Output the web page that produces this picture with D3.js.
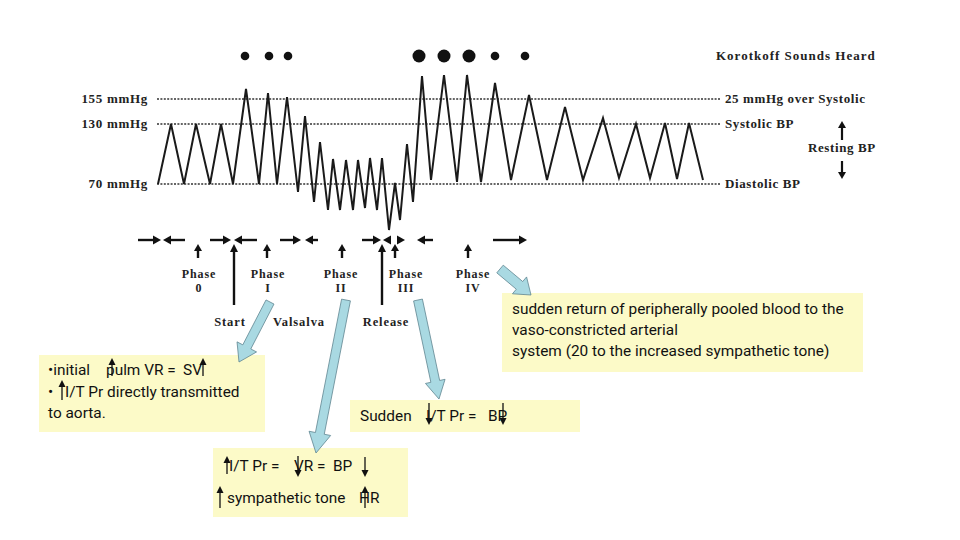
<!DOCTYPE html>
<html>
<head>
<meta charset="utf-8">
<script src="https://cdn.jsdelivr.net/npm/d3@7/dist/d3.min.js"></script>
<style>
  body { margin: 0; background: #fff; }
  svg { display: block; }
  .lbl { font-family: "Liberation Serif", "DejaVu Serif", serif; font-weight: bold; fill: #222; }
  .note { font-family: Roboto, "Noto Sans", sans-serif; font-size: 15.4px; fill: #111; }
</style>
</head>
<body>
<div id="chart"></div>
<script>
// waveform: time (arbitrary units) and pressure (mmHg)
const waveT = [1, 14, 27, 39, 53, 64, 76, 89, 102, 111, 120, 130, 141, 148, 157, 163, 171, 176, 183, 189, 196, 201, 208, 213, 220, 225, 232, 238, 243, 250, 256, 265, 274, 287, 300, 310, 324, 338, 354, 372, 390, 408, 426, 446, 462, 479, 493, 508, 520, 532, 546];
const waveP = [70, 130, 70, 130, 70, 130, 70, 165, 70, 161, 70, 157, 62, 138, 52, 112, 44, 95, 44, 94, 44, 94, 46, 96, 44, 96, 24, 71, 34, 110, 52, 178, 74, 179, 72, 179, 72, 171, 74, 159, 74, 147, 74, 136, 76, 130, 76, 131, 75, 131, 74];

// Korotkoff sounds: time and loudness (1 faint, 2 loud)
const soundT = [88, 112, 131, 262, 287, 312, 338, 368];
const soundLoud = [1, 1, 1, 2, 2, 2, 1, 1];

// reference levels
const refLevels = [155, 130, 70];
const refLeft = ["155 mmHg", "130 mmHg", "70 mmHg"];
const refRight = ["25 mmHg over Systolic", "Systolic BP", "Diastolic  BP"];

// phases of the manoeuvre
const phaseNames = ["0", "I", "II", "III", "IV"];
const phaseArrowT = [41, 110, 185, 238, 311];
const phaseLabelT = [42, 111, 184, 249, 316];
const eventNames = ["Start", "Valsalva", "Release"];
const eventLabelT = [73, 142, 229];
const eventArrowT = [77, null, 225];

// horizontal arrows along the phase row [from, to]
const rowArrows = [[-19, 4], [28, 6], [53, 74], [100, 77], [123, 144], [161, 148], [205, 224], [233, 226], [241, 248], [276, 260], [336, 370]];

const W = 960, H = 540;
const svg = d3.select('#chart').append('svg')
  .attr('width', W).attr('height', H)
  .attr('viewBox', `0 0 ${W} ${H}`);

const x = d3.scaleLinear().domain([0, 563]).range([157, 720]);
const y = d3.scaleLinear().domain([0, 155]).range([254, 99]);

// dotted reference lines
svg.selectAll('line.ref')
  .data(refLevels)
  .enter().append('line')
  .attr('class', 'ref')
  .attr('x1', x(0)).attr('x2', x(563))
  .attr('y1', d => y(d)).attr('y2', d => y(d))
  .attr('stroke', '#333')
  .attr('stroke-width', 1.4)
  .attr('stroke-dasharray', '2,1.4');

svg.selectAll('text.refL')
  .data(refLevels)
  .enter().append('text')
  .attr('class', 'lbl refL')
  .attr('x', 148).attr('y', d => y(d) + 4)
  .attr('text-anchor', 'end')
  .attr('font-size', 13)
  .attr('letter-spacing', 0.7)
  .text((d, i) => refLeft[i]);

svg.selectAll('text.refR')
  .data(refLevels)
  .enter().append('text')
  .attr('class', 'lbl refR')
  .attr('x', 725).attr('y', d => y(d) + 4)
  .attr('font-size', 13)
  .attr('letter-spacing', 0.6)
  .text((d, i) => refRight[i]);

// waveform
const line = d3.line().x(d => x(d[0])).y(d => y(d[1]));
svg.append('path')
  .datum(waveT.map((t, i) => [t, waveP[i]]))
  .attr('d', line)
  .attr('fill', 'none')
  .attr('stroke', '#1a1a1a')
  .attr('stroke-width', 2)
  .attr('stroke-linejoin', 'miter');

// Korotkoff dots
const rScale = d3.scaleOrdinal().domain([1, 2]).range([4.3, 6.5]);
svg.selectAll('circle.snd')
  .data(soundT)
  .enter().append('circle')
  .attr('class', 'snd')
  .attr('cx', d => x(d))
  .attr('cy', 56)
  .attr('r', (d, i) => rScale(soundLoud[i]))
  .attr('fill', '#111');

svg.append('text').attr('class', 'lbl')
  .attr('x', 716).attr('y', 60)
  .attr('font-size', 13).attr('letter-spacing', 1)
  .text('Korotkoff Sounds Heard');

// black arrow helper
function blackArrow(x1, y1, x2, y2, hl = 8, hw = 4.5, sw = 2.4) {
  const len = Math.hypot(x2 - x1, y2 - y1);
  const dx = (x2 - x1) / len, dy = (y2 - y1) / len;
  const bx = x2 - dx * hl, by = y2 - dy * hl;
  svg.append('line')
    .attr('x1', x1).attr('y1', y1).attr('x2', bx).attr('y2', by)
    .attr('stroke', '#111').attr('stroke-width', sw);
  svg.append('path')
    .attr('d', `M${x2},${y2}L${bx - dy * hw},${by + dx * hw}L${bx + dy * hw},${by - dx * hw}Z`)
    .attr('fill', '#111');
}

// resting BP arrows
svg.append('text').attr('class', 'lbl')
  .attr('x', 808).attr('y', 152)
  .attr('font-size', 13).attr('letter-spacing', 0.6)
  .text('Resting BP');
blackArrow(842, 140, 842, 121, 7, 4, 2.2);
blackArrow(842, 161, 842, 179, 7, 4, 2.2);

// phase row arrows
rowArrows.forEach(a => blackArrow(x(a[0]), 240, x(a[1]), 240));

phaseArrowT.forEach(t => blackArrow(x(t), 258, x(t), 244, 7, 4, 2.4));

eventArrowT.forEach(t => {
  if (t !== null) blackArrow(x(t), 305, x(t), 244, 8, 4, 2.4);
});

svg.selectAll('text.phase')
  .data(phaseNames)
  .enter().append('text')
  .attr('class', 'lbl phase')
  .attr('x', (d, i) => x(phaseLabelT[i]))
  .attr('y', 278)
  .attr('text-anchor', 'middle')
  .attr('font-size', 12).attr('letter-spacing', 0.9)
  .text('Phase');

svg.selectAll('text.phaseN')
  .data(phaseNames)
  .enter().append('text')
  .attr('class', 'lbl phaseN')
  .attr('x', (d, i) => x(phaseLabelT[i]))
  .attr('y', 292)
  .attr('text-anchor', 'middle')
  .attr('font-size', 12).attr('letter-spacing', 0.9)
  .text(d => d);

svg.selectAll('text.event')
  .data(eventNames)
  .enter().append('text')
  .attr('class', 'lbl event')
  .attr('x', (d, i) => x(eventLabelT[i]))
  .attr('y', 326)
  .attr('text-anchor', 'middle')
  .attr('font-size', 12.5).attr('letter-spacing', 0.9)
  .text(d => d);

// yellow note boxes
function box(x0, y0, w, h) {
  svg.append('rect')
    .attr('x', x0).attr('y', y0).attr('width', w).attr('height', h)
    .attr('fill', '#fcfac8');
}
box(39, 355, 226, 77);
box(350, 400, 230, 32);
box(213, 448, 195, 69);
box(502, 293, 361, 79);

// fat callout arrows
function fatArrow(x1, y1, x2, y2, sw = 5, hw = 12, hl = 18) {
  const len = Math.hypot(x2 - x1, y2 - y1);
  const dx = (x2 - x1) / len, dy = (y2 - y1) / len;
  const nx = -dy, ny = dx;
  const bx = x2 - dx * hl, by = y2 - dy * hl;
  const pts = [
    [x1 + nx * sw, y1 + ny * sw],
    [bx + nx * sw, by + ny * sw],
    [bx + nx * hw, by + ny * hw],
    [x2, y2],
    [bx - nx * hw, by - ny * hw],
    [bx - nx * sw, by - ny * sw],
    [x1 - nx * sw, y1 - ny * sw]
  ];
  svg.append('path')
    .attr('d', 'M' + pts.map(p => p.join(',')).join('L') + 'Z')
    .attr('fill', '#a9d9e2')
    .attr('stroke', '#5f8590')
    .attr('stroke-width', 0.8);
}
fatArrow(270, 302, 239, 362, 4.5, 11, 17);
fatArrow(346, 300, 316, 453, 4.5, 11, 20);
fatArrow(418, 300, 439, 399, 4.5, 10, 18);
fatArrow(500, 269, 531, 295, 5, 11, 15);

// thin arrows inside the notes
function thinArrow(xa, y1, y2) {
  const dir = y2 > y1 ? 1 : -1;
  svg.append('line')
    .attr('x1', xa).attr('x2', xa).attr('y1', y1).attr('y2', y2 - dir * 5)
    .attr('stroke', '#111').attr('stroke-width', 1.3);
  svg.append('path')
    .attr('d', `M${xa},${y2}L${xa - 3.5},${y2 - dir * 7}L${xa + 3.5},${y2 - dir * 7}Z`)
    .attr('fill', '#111');
}
function note(xt, yt, str) {
  svg.append('text').attr('class', 'note')
    .attr('x', xt).attr('y', yt)
    .attr('xml:space', 'preserve')
    .text(str);
}

note(48, 375, '•initial');
note(106, 375, 'pulm VR =');
note(183, 375, 'SV');
thinArrow(112, 376, 358);
thinArrow(203, 376, 358);
note(48, 397, '•');
thinArrow(62, 400, 380);
note(65, 397, 'I/T Pr directly transmitted');
note(48, 418, 'to aorta.');

note(360, 421, 'Sudden');
note(426, 421, 'I/T Pr =');
note(488, 421, 'BP');
thinArrow(429, 403, 425);
thinArrow(503, 403, 425);

note(229, 471, 'I/T Pr =');
note(294, 471, 'VR =');
note(333, 471, 'BP');
thinArrow(227, 474, 456);
thinArrow(298, 456, 477);
thinArrow(365, 457, 477);
thinArrow(220, 508, 486);
note(227, 503, 'sympathetic tone');
note(359, 503, 'HR');
thinArrow(365, 508, 486);

note(512, 314, 'sudden return of peripherally pooled blood to the');
note(512, 335, 'vaso-constricted arterial');
note(512, 356, 'system (20 to the increased sympathetic tone)');
</script>
</body>
</html>
